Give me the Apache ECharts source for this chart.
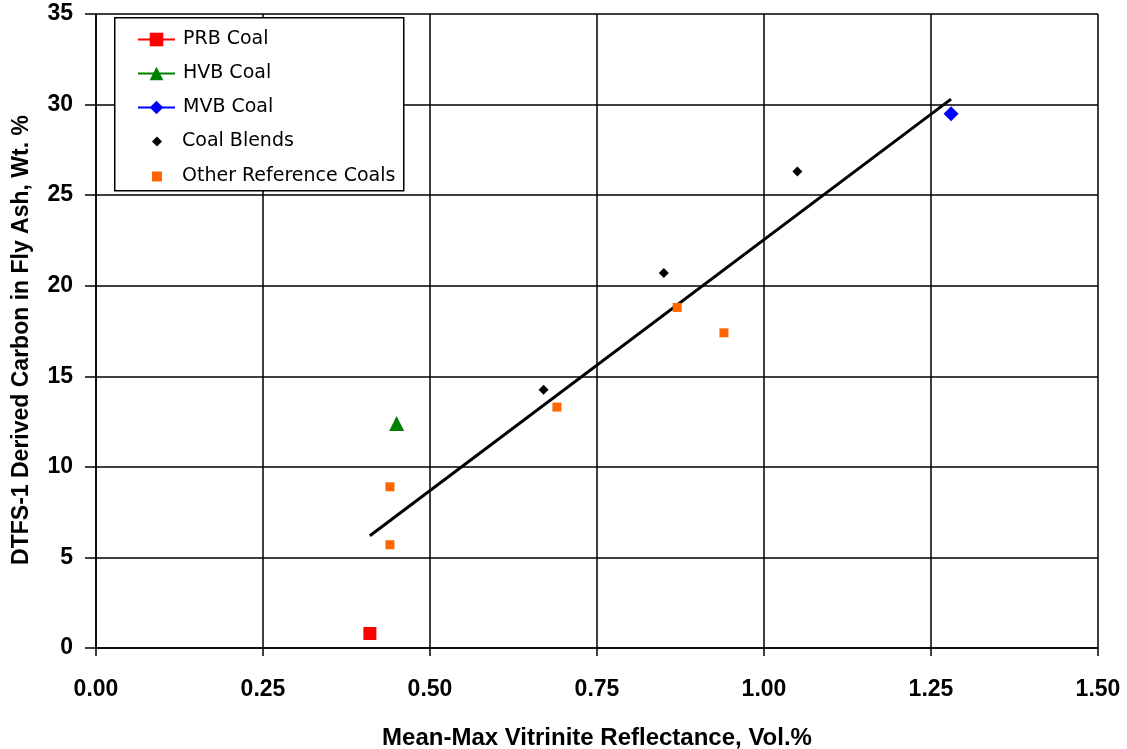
<!DOCTYPE html>
<html><head><meta charset="utf-8">
<script src="https://cdn.jsdelivr.net/npm/echarts@6/dist/echarts.min.js"></script>
<style>html,body{margin:0;padding:0;background:#fff}#c{width:1127px;height:749px}</style>
</head><body><div id="c"></div>
<script>
const xTicks = [0, 0.25, 0.5, 0.75, 1.0, 1.25, 1.5];
const yTicks = [0, 5, 10, 15, 20, 25, 30, 35];
const prbCoal = [[0.41, 0.8]];
const hvbCoal = [[0.45, 12.4]];
const mvbCoal = [[1.28, 29.5]];
const coalBlends = [[0.67, 14.25], [0.85, 20.7], [1.05, 26.3]];
const otherCoals = [[0.44, 8.9], [0.44, 5.7], [0.69, 13.3], [0.87, 18.8], [0.94, 17.4]];
const trendLine = [[0.41, 6.2], [1.28, 30.3]];

const FONT = "'Liberation Sans',Arial,sans-serif";
const LFONT = "'DejaVu Sans',Verdana,sans-serif";
const chart = echarts.init(document.getElementById('c'));
chart.setOption({
  animation: false,
  backgroundColor: '#fff',
  grid: {left: 96, right: 29, top: 14, bottom: 101, outerBoundsMode: 'none', containLabel: false},
  xAxis: {
    type: 'value', min: 0, max: 1.5, interval: 0.25,
    name: 'Mean-Max Vitrinite Reflectance, Vol.%', nameLocation: 'middle', nameGap: 78,
    nameTextStyle: {fontFamily: FONT, fontWeight: 'bold', fontSize: 24, color: '#000'},
    axisLine: {lineStyle: {color: '#000', width: 1.5}},
    axisTick: {length: 8, lineStyle: {color: '#000', width: 1.5}},
    axisLabel: {margin: 30, fontFamily: FONT, fontWeight: 'bold', fontSize: 23, color: '#000',
      formatter: v => v.toFixed(2)},
    splitLine: {show: true, lineStyle: {color: '#000', width: 1.5}}
  },
  yAxis: {
    type: 'value', min: 0, max: 35, interval: 5,
    name: 'DTFS-1 Derived Carbon in Fly Ash, Wt. %', nameLocation: 'middle', nameGap: 63,
    nameTextStyle: {fontFamily: FONT, fontWeight: 'bold', fontSize: 23, color: '#000',
      padding: [0, 18, 0, 0]},
    axisLine: {lineStyle: {color: '#000', width: 1.5}},
    axisTick: {length: 11, lineStyle: {color: '#000', width: 1.5}},
    axisLabel: {margin: 23, fontFamily: FONT, fontWeight: 'bold', fontSize: 23, color: '#000',
      padding: [8, 0, 0, 0]},
    splitLine: {show: true, lineStyle: {color: '#000', width: 1.5}}
  },
  graphic: [{type: 'rect', left: 114, top: 17, z: 3,
    shape: {width: 289, height: 173},
    style: {fill: '#fff', stroke: '#000', lineWidth: 1.5}}],
  legend: [{
    orient: 'vertical', left: 132, top: 25, z: 5,
    itemWidth: 37, itemHeight: 17, itemGap: 15,
    textStyle: {fontFamily: LFONT, fontSize: 19, color: '#000', padding: [0, 0, 0, 3]},
    data: ['PRB Coal', 'HVB Coal', 'MVB Coal']
  }, {
    orient: 'vertical', left: 147, top: 127, z: 5,
    itemWidth: 10, itemHeight: 10, itemGap: 16,
    textStyle: {fontFamily: LFONT, fontSize: 19, color: '#000', padding: [0, 0, 0, 15]},
    data: [{name: 'Coal Blends', icon: 'diamond'}, {name: 'Other Reference Coals', icon: 'rect'}]
  }],
  series: [
    {name: 'Trend', type: 'line', data: trendLine, symbol: 'none',
      lineStyle: {color: '#000', width: 3}, z: 2},
    {name: 'PRB Coal', type: 'line', data: prbCoal, symbol: 'rect', symbolSize: 13,
      color: '#ff0000', itemStyle: {color: '#ff0000'}, lineStyle: {color: '#ff0000', width: 1.5}, z: 3},
    {name: 'HVB Coal', type: 'line', data: hvbCoal, symbol: 'triangle', symbolSize: 15,
      color: '#008000', itemStyle: {color: '#008000'}, lineStyle: {color: '#008000', width: 1.5}, z: 3},
    {name: 'MVB Coal', type: 'line', data: mvbCoal, symbol: 'diamond', symbolSize: 15,
      color: '#0000ff', itemStyle: {color: '#0000ff'}, lineStyle: {color: '#0000ff', width: 1.5}, z: 3},
    {name: 'Coal Blends', type: 'scatter', data: coalBlends, symbol: 'diamond', symbolSize: 10,
      itemStyle: {color: '#000', opacity: 1}, z: 3},
    {name: 'Other Reference Coals', type: 'scatter', data: otherCoals, symbol: 'rect', symbolSize: 9,
      itemStyle: {color: '#ff6600', opacity: 1}, z: 3}
  ]
});
</script></body></html>
